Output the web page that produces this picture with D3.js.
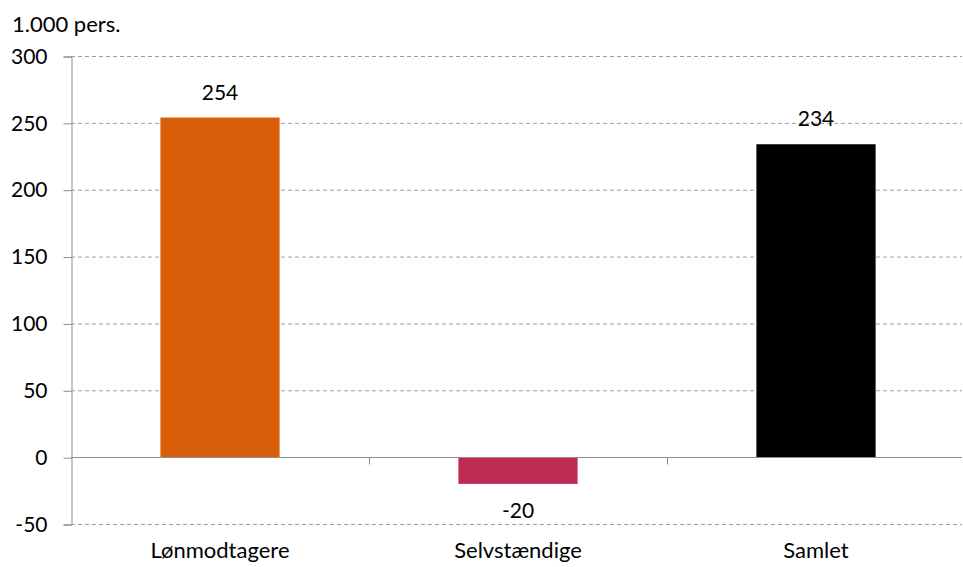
<!DOCTYPE html>
<html>
<head>
<meta charset="utf-8">
<script src="https://cdn.jsdelivr.net/npm/d3@7"></script>
<style>
	body { margin: 0; background: #fff; }
	text { font-family: Lato, "Open Sans", sans-serif; fill: #000; }
</style>
</head>
<body>
<svg id="chart" width="963" height="567"></svg>
<script>
// Data
const categories = ["Lønmodtagere", "Selvstændige", "Samlet"];
const values = [254, -20, 234];
const colors = ["#DA5F0A", "#BE2B54", "#000000"];
const yTicks = [-50, 0, 50, 100, 150, 200, 250, 300];
const unitLabel = "1.000 pers.";

const margin = {top: 56, right: 0, bottom: 43, left: 71};
const numSize = "21px",
	  wordSize = "22px";

const svg = d3.select("#chart"),
	  width = +svg.attr("width"),
	  height = +svg.attr("height");

const x = d3.scaleBand()
	.domain(categories)
	.range([margin.left, 965])
	.paddingInner(0.6)
	.paddingOuter(0.3);

const y = d3.scaleLinear()
	.domain([-50, 300])
	.range([524, margin.top]);

// Dashed gridlines
svg.append("g")
	.selectAll("line")
	.data(yTicks.filter(d => d !== 0))
	.enter()
	.append("line")
	.attr("x1", margin.left)
	.attr("x2", 962)
	.attr("y1", d => y(d) + 0.5)
	.attr("y2", d => y(d) + 0.5)
	.attr("stroke", "#a0a0a0")
	.attr("stroke-dasharray", "4,3");

// Bars
svg.append("g")
	.selectAll("rect")
	.data(values)
	.enter()
	.append("rect")
	.attr("x", (d, i) => x(categories[i]))
	.attr("width", x.bandwidth())
	.attr("y", d => y(Math.max(0, d)))
	.attr("height", d => Math.abs(y(d) - y(0)))
	.attr("fill", (d, i) => colors[i]);

// Zero line with category ticks
const zero = Math.round(y(0)) + 0.5;
svg.append("line")
	.attr("x1", margin.left).attr("x2", 962)
	.attr("y1", zero).attr("y2", zero)
	.attr("stroke", "#8c8c8c");

const step = x.step();
svg.append("g")
	.selectAll("line")
	.data(d3.range(1, categories.length))
	.enter()
	.append("line")
	.attr("x1", i => Math.round(margin.left + i * step) + 0.5)
	.attr("x2", i => Math.round(margin.left + i * step) + 0.5)
	.attr("y1", zero)
	.attr("y2", zero + 7)
	.attr("stroke", "#8c8c8c");

// Y axis
const yAxis = svg.append("g")
	.attr("transform", `translate(${margin.left + 0.5},0.5)`)
	.call(d3.axisLeft(y).tickValues(yTicks).tickSize(8).tickPadding(16)
		.tickFormat(d => String(d)));

yAxis.select(".domain").attr("stroke", "#8c8c8c");
yAxis.selectAll(".tick line").attr("stroke", "#8c8c8c");
yAxis.selectAll(".tick text")
	.style("font-size", numSize)
	.style("font-family", "Lato, 'Open Sans', sans-serif")
	.attr("fill", "#000");

// Value labels
svg.append("g")
	.selectAll("text")
	.data(values)
	.enter()
	.append("text")
	.attr("x", (d, i) => x(categories[i]) + x.bandwidth() / 2)
	.attr("y", d => d >= 0 ? y(d) - 18 : y(d) + 34)
	.attr("text-anchor", "middle")
	.style("font-size", numSize)
	.text(d => d);

// Category labels
svg.append("g")
	.selectAll("text")
	.data(categories)
	.enter()
	.append("text")
	.attr("x", d => x(d) + x.bandwidth() / 2)
	.attr("y", 558)
	.attr("text-anchor", "middle")
	.style("font-size", wordSize)
	.text(d => d);

// Unit label
svg.append("text")
	.attr("x", 12)
	.attr("y", 32)
	.style("font-size", wordSize)
	.text(unitLabel);
</script>
</body>
</html>
